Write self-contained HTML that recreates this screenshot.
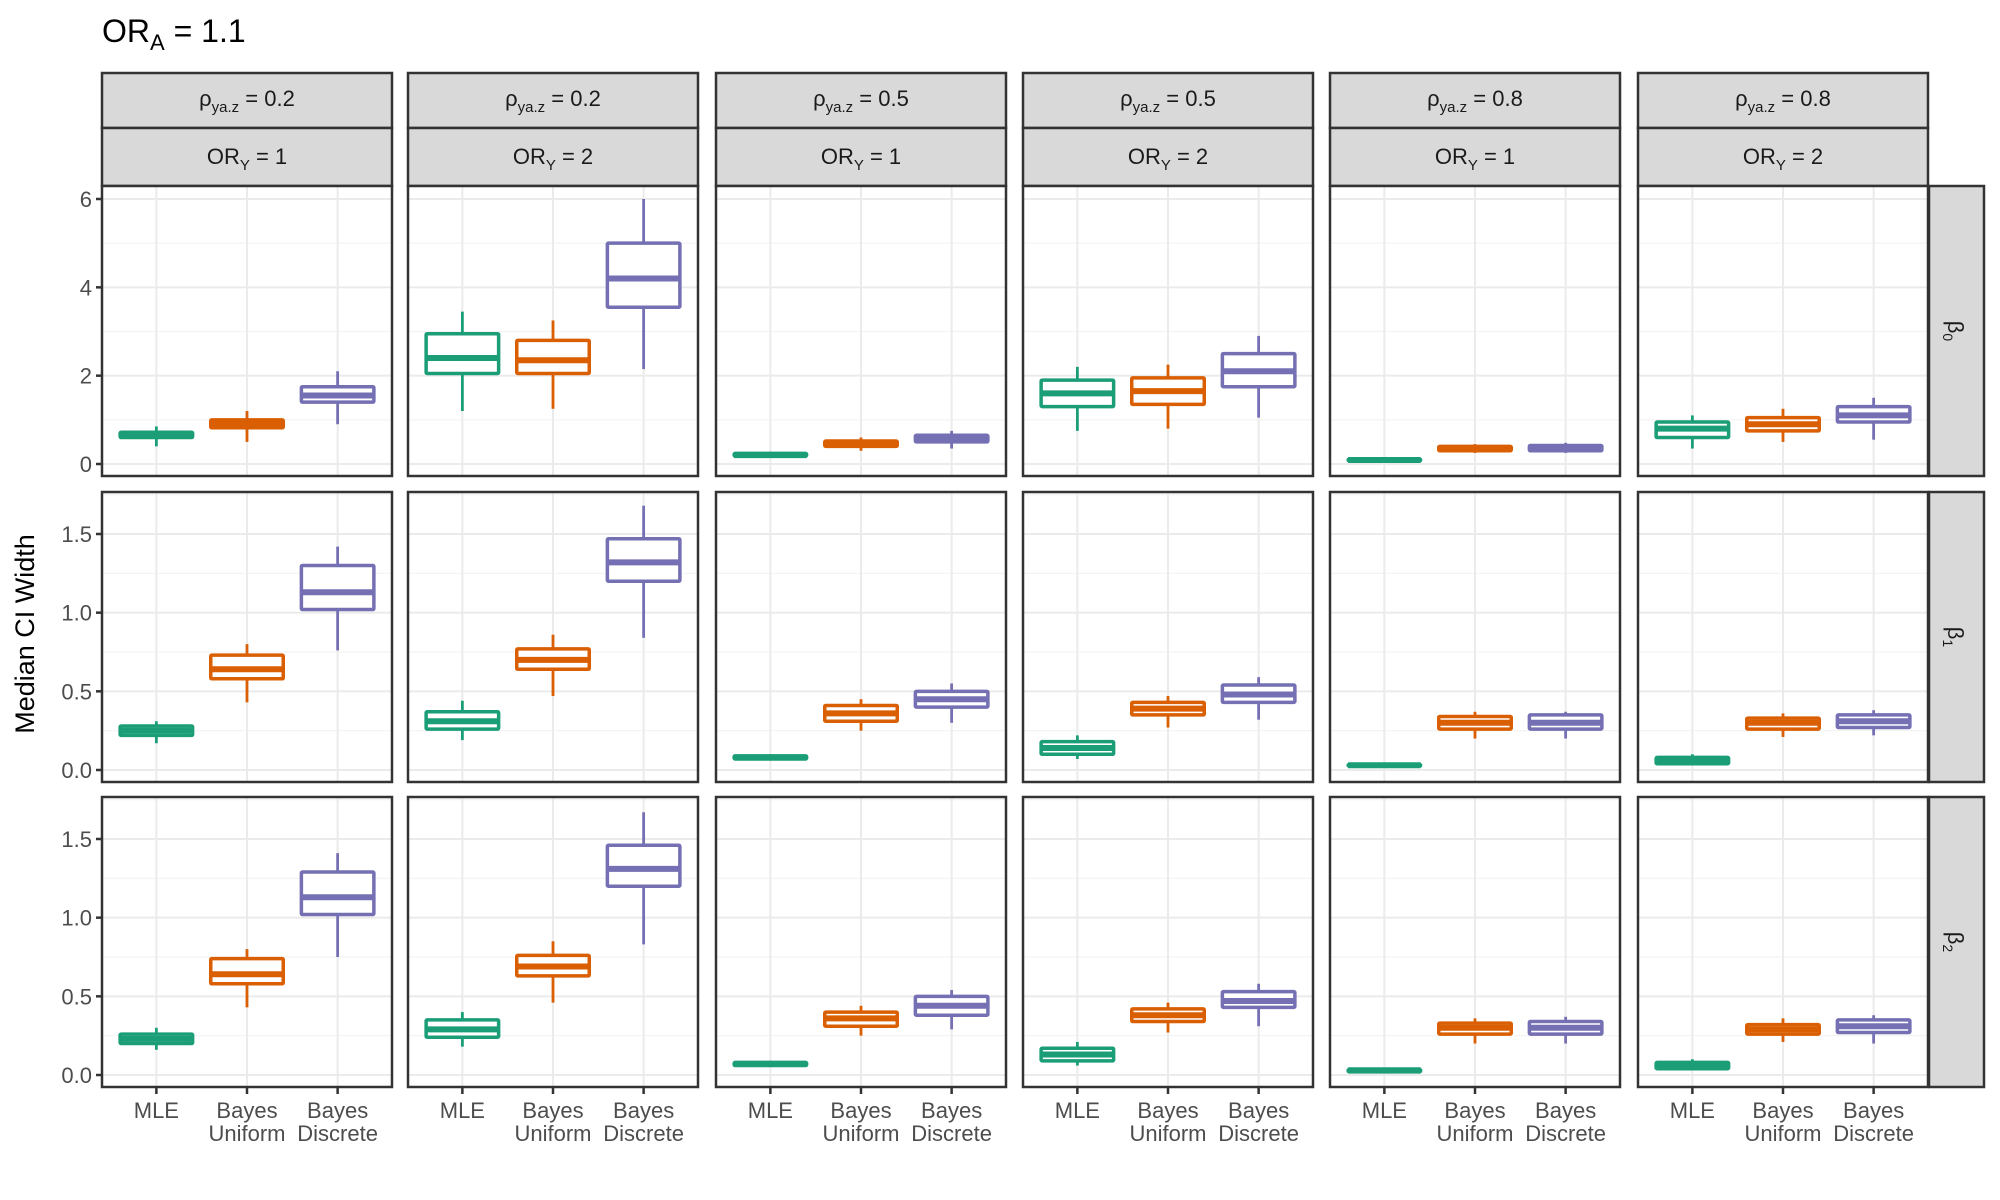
<!DOCTYPE html>
<html><head><meta charset="utf-8"><style>
body{margin:0;background:#fff;}
svg{display:block;font-family:"Liberation Sans",Arial,sans-serif;}
</style></head><body>
<svg id="chart" width="2000" height="1200" viewBox="0 0 2000 1200" xmlns="http://www.w3.org/2000/svg">
<rect width="2000" height="1200" fill="#fff"/>
<text x="102" y="42" font-size="32" fill="#000">OR<tspan font-size="22" dy="8">A</tspan><tspan dy="-8"> = 1.1</tspan></text>
<text transform="translate(34,634) rotate(-90)" text-anchor="middle" font-size="27" fill="#000">Median CI Width</text>
</svg>
<script>
const methods = ["MLE","Bayes Uniform","Bayes Discrete"];
const colors = ["#1b9e77","#d95f02","#7570b3"];
const rhoLabels = ["0.2","0.2","0.5","0.5","0.8","0.8"];
const orYLabels = ["1","2","1","2","1","2"];
const rowLabels = ["0","1","2"];
const row0Ticks = [0,2,4,6];
const row12Ticks = [0,0.5,1.0,1.5];
const row12TickLabels = ["0.0","0.5","1.0","1.5"];
// [lo, q1, median, q3, hi] per method, per column
const beta0 = [
 [[.4,.6,.65,.72,.85],[.5,.82,.9,1.0,1.2],[.9,1.4,1.55,1.75,2.1]],
 [[1.2,2.05,2.4,2.95,3.45],[1.25,2.05,2.35,2.8,3.25],[2.15,3.55,4.2,5.0,6.0]],
 [[.15,.18,.2,.24,.28],[.3,.4,.45,.52,.6],[.35,.5,.55,.65,.75]],
 [[.75,1.3,1.6,1.9,2.2],[.8,1.35,1.65,1.95,2.25],[1.05,1.75,2.1,2.5,2.9]],
 [[.05,.07,.09,.11,.13],[.25,.3,.35,.4,.45],[.25,.3,.35,.42,.48]],
 [[.35,.6,.8,.95,1.1],[.5,.75,.9,1.05,1.25],[.55,.95,1.1,1.3,1.5]]
];
const beta1 = [
 [[.17,.22,.25,.28,.31],[.43,.58,.64,.73,.8],[.76,1.02,1.13,1.3,1.42]],
 [[.19,.26,.31,.37,.44],[.47,.64,.7,.77,.86],[.84,1.2,1.32,1.47,1.68]],
 [[.06,.07,.08,.09,.1],[.25,.31,.36,.41,.45],[.3,.4,.45,.5,.55]],
 [[.07,.1,.14,.18,.22],[.27,.35,.39,.43,.47],[.32,.43,.48,.54,.59]],
 [[.02,.025,.03,.035,.04],[.2,.26,.3,.34,.37],[.2,.26,.3,.35,.37]],
 [[.03,.04,.06,.08,.1],[.21,.26,.3,.33,.36],[.22,.27,.31,.35,.38]]
];
const beta2 = [
 [[.16,.2,.23,.26,.3],[.43,.58,.64,.74,.8],[.75,1.02,1.13,1.29,1.41]],
 [[.18,.24,.29,.35,.4],[.46,.63,.69,.76,.85],[.83,1.2,1.31,1.46,1.67]],
 [[.06,.06,.07,.08,.09],[.25,.31,.36,.4,.44],[.29,.38,.44,.5,.54]],
 [[.06,.09,.13,.17,.21],[.27,.34,.38,.42,.46],[.31,.43,.47,.53,.58]],
 [[.02,.02,.03,.035,.04],[.2,.26,.3,.33,.36],[.2,.26,.3,.34,.37]],
 [[.03,.04,.06,.08,.1],[.21,.26,.29,.32,.36],[.2,.27,.31,.35,.38]]
];
const rowData = [beta0,beta1,beta2];

const NS="http://www.w3.org/2000/svg";
const svg=document.getElementById('chart');
function mk(tag,attrs,parent){const e=document.createElementNS(NS,tag);for(const k in attrs)e.setAttribute(k,attrs[k]);(parent||svg).appendChild(e);return e;}

const colLeft=[102,408,716,1023,1330,1638], panelW=290;
const rowTop=[186,492,797], panelH=290;
// y scale: value -> pixel (row0: 0 at 464, 6 at 199; rows1,2: 0 at +278, 1.5 at +42)
function yScale(r,v){
  if(r===0) return 464 - v*(464-199)/6;
  const base = rowTop[r]+278;
  return base - v*(236/1.5);
}
function xScale(c,i){ return colLeft[c] + (i+0.6)/3.2*panelW; }
const bw = 0.8/3.2*panelW;

// strips
for(let c=0;c<6;c++){
  const x=colLeft[c];
  let g=mk('g',{});  
  mk('rect',{x:x,y:73,width:panelW,height:55,fill:'#d9d9d9',stroke:'#333','stroke-width':2.5},g);
  const t=mk('text',{x:x+panelW/2,y:106,'text-anchor':'middle','font-size':22,fill:'#1a1a1a'},g);
  t.innerHTML='ρ<tspan font-size="15" dy="6">ya.z</tspan><tspan dy="-6"> = '+rhoLabels[c]+'</tspan>';
  let g2=mk('g',{});  
  mk('rect',{x:x,y:128,width:panelW,height:58,fill:'#d9d9d9',stroke:'#333','stroke-width':2.5},g2);
  const t2=mk('text',{x:x+panelW/2,y:164,'text-anchor':'middle','font-size':22,fill:'#1a1a1a'},g2);
  t2.innerHTML='OR<tspan font-size="15" dy="6">Y</tspan><tspan dy="-6"> = '+orYLabels[c]+'</tspan>';
}
// row strips
for(let r=0;r<3;r++){
  let g=mk('g',{});  
  mk('rect',{x:1929,y:rowTop[r],width:55,height:panelH,fill:'#d9d9d9',stroke:'#333','stroke-width':2.5},g);
  const t=mk('text',{transform:'translate(1948,'+(rowTop[r]+panelH/2)+') rotate(90)','text-anchor':'middle','font-size':22,fill:'#1a1a1a'},g);
  t.innerHTML='β<tspan font-size="14" dy="5">'+rowLabels[r]+'</tspan>';
}
// panels
for(let r=0;r<3;r++){
  const ticks = r===0?row0Ticks:row12Ticks;
  const labels = r===0?row0Ticks.map(String):row12TickLabels;
  const step = ticks[1]-ticks[0];
  for(let c=0;c<6;c++){
    const x0=colLeft[c], y0=rowTop[r];
    let g=mk('g',{});  
    mk('rect',{x:x0,y:y0,width:panelW,height:panelH,fill:'#fff'},g);
    // minor grid
    for(let k=0;k<ticks.length;k++){
      const v=ticks[k]+step/2; const y=yScale(r,v);
      if(y>y0 && y<y0+panelH) mk('line',{x1:x0,x2:x0+panelW,y1:y,y2:y,stroke:'#f3f3f3','stroke-width':1.2},g);
    }
    ticks.forEach(v=>{const y=yScale(r,v); mk('line',{x1:x0,x2:x0+panelW,y1:y,y2:y,stroke:'#ebebeb','stroke-width':2},g);});
    for(let i=0;i<3;i++){const x=xScale(c,i); mk('line',{x1:x,x2:x,y1:y0,y2:y0+panelH,stroke:'#ebebeb','stroke-width':2},g);}
    // boxes
    const d=rowData[r][c];
    for(let i=0;i<3;i++){
      const [lo,q1,md,q3,hi]=d[i]; const cx=xScale(c,i); const col=colors[i];
      let b=mk('g',{},g);
      
      
      mk('line',{x1:cx,x2:cx,y1:yScale(r,hi),y2:yScale(r,q3),stroke:col,'stroke-width':2.8},b);
      mk('line',{x1:cx,x2:cx,y1:yScale(r,q1),y2:yScale(r,lo),stroke:col,'stroke-width':2.8},b);
      const yt=yScale(r,q3), yb=yScale(r,q1);
      mk('rect',{x:cx-bw/2,y:yt,width:bw,height:Math.max(yb-yt,0.5),fill:'#fff',stroke:col,'stroke-width':3.5,rx:1},b);
      const ym=yScale(r,md);
      mk('line',{x1:cx-bw/2,x2:cx+bw/2,y1:ym,y2:ym,stroke:col,'stroke-width':6},b);
    }
    mk('rect',{x:x0,y:y0,width:panelW,height:panelH,fill:'none',stroke:'#333','stroke-width':2.5},g);
    // y axis
    if(c===0){
      let ga=mk('g',{});  
      ticks.forEach((v,k)=>{const y=yScale(r,v);
        mk('line',{x1:x0-6,x2:x0,y1:y,y2:y,stroke:'#333','stroke-width':2.5},ga);
        const t=mk('text',{x:x0-10,y:y+8,'text-anchor':'end','font-size':22,fill:'#4d4d4d'},ga); t.textContent=labels[k];});
    }
    // x axis
    if(r===2){
      let ga=mk('g',{});  
      for(let i=0;i<3;i++){const x=xScale(c,i);
        mk('line',{x1:x,x2:x,y1:y0+panelH,y2:y0+panelH+7,stroke:'#333','stroke-width':2.5},ga);
        const parts=methods[i].split(' ');
        parts.forEach((p,j)=>{const t=mk('text',{x:x,y:1118+j*23,'text-anchor':'middle','font-size':22,fill:'#4d4d4d'},ga); t.textContent=p;});
      }
    }
  }
}
</script>
</body></html>
